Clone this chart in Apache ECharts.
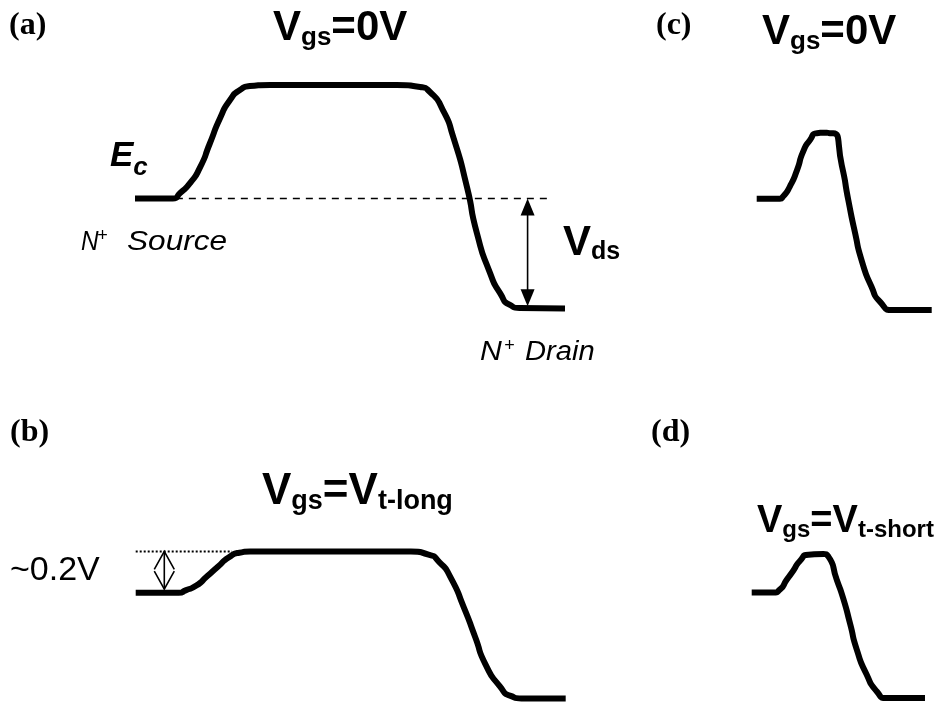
<!DOCTYPE html>
<html>
<head>
<meta charset="utf-8">
<script src="https://cdn.jsdelivr.net/npm/echarts@6/dist/echarts.min.js"></script>
<style>
  html, body { margin: 0; padding: 0; background: #fff; }
  #chart { width: 943px; height: 717px; }
</style>
</head>
<body>
<div id="chart"></div>
<script>
// Conduction-band edge Ec (eV, relative to the source level) along the channel.
// Position is in arbitrary channel units.

// (a) long channel, Vgs = 0 V
const posA = [0, 8.8, 10.5, 12.8, 15.1, 17.4, 19.8, 22.1, 24.4, 26.7, 31.4, 60.9, 66.3, 68.6, 71.6, 74.0, 77.2, 79.5, 82.6, 84.9, 87.2, 89.5, 100];
const ecA  = [0, 0, 0.025, 0.07, 0.14, 0.25, 0.366, 0.448, 0.493, 0.511, 0.516, 0.516, 0.507, 0.484, 0.402, 0.28, 0.052, -0.157, -0.34, -0.43, -0.484, -0.498, -0.5];

// (b) long channel, Vgs = Vt-long
const posB = [0, 10.0, 11.6, 14.1, 16.6, 19.1, 21.6, 24.1, 26.6, 64.0, 68.1, 70.6, 73.1, 76.4, 78.9, 81.4, 84.7, 87.2, 89.7, 100];
const ecB  = [0, 0, 0.012, 0.035, 0.08, 0.126, 0.171, 0.194, 0.2, 0.2, 0.185, 0.149, 0.08, -0.075, -0.211, -0.348, -0.452, -0.498, -0.51, -0.51];

// (c) short channel, Vgs = 0 V
const posC = [0, 5.4, 6.1, 7.7, 9.4, 10.8, 12.4, 14.0, 16.3, 17.0, 17.8, 19.8, 21.3, 22.9, 24.4, 26.7, 28.7, 31.8, 40.7];
const ecC  = [0, 0, 0.009, 0.055, 0.131, 0.214, 0.267, 0.298, 0.3, 0.298, 0.298, 0.15, -0.006, -0.158, -0.28, -0.4, -0.469, -0.506, -0.506];

// (d) short channel, Vgs = Vt-short
const posD = [0, 5.0, 6.6, 8.1, 9.7, 11.2, 13.2, 16.7, 17.8, 19.8, 21.3, 22.9, 24.4, 26.7, 29.1, 31.4, 40.3];
const ecD  = [0, 0, 0.015, 0.06, 0.106, 0.152, 0.182, 0.185, 0.174, 0.06, -0.03, -0.152, -0.273, -0.394, -0.477, -0.508, -0.508];

// Source reference level in (a), extended towards the drain
const sourceLevelPos = [9.5, 97];
const sourceLevel = 0;
// Barrier-top reference level in (b)
const barrierTopPos = [0, 22.4];
const barrierTop = 0.2;

// Double arrows: [position, from Ec, to Ec]
const vdsArrow = [[91.3, 0, -0.49]];
const barrierArrow = [[6.65, 0.2, 0.018]];

const zip = (xs, ys) => xs.map((x, i) => [x, ys[i]]);

const SANS = '"Liberation Sans", Arial, sans-serif';
const SERIF = '"Liberation Serif", "Times New Roman", serif';
const meas = document.createElement('canvas').getContext('2d');

function label(x, base, text, size, o) {
  o = o || {};
  const k = o.serif ? 0.3374 : 0.3465;
  return {
    type: 'text', x: x, y: base - k * size, scaleX: o.sx || 1, silent: true,
    style: {
      text: text, fontFamily: o.serif ? SERIF : SANS, fontSize: size,
      fontWeight: o.bold ? 'bold' : 'normal', fontStyle: o.italic ? 'italic' : 'normal',
      fill: '#000', align: 'left', verticalAlign: 'middle'
    }
  };
}
// Runs of text on one baseline (main text + subscripts)
function chain(x, base, parts) {
  const out = [];
  let cx = x;
  parts.forEach(function (p) {
    const t = p[0], size = p[1], dy = p[2], o = p[3] || {};
    out.push(label(cx, base + dy, t, size, o));
    meas.font = (o.italic ? 'italic ' : '') + (o.bold ? 'bold ' : '') + size + 'px ' + (o.serif ? SERIF : SANS);
    cx += meas.measureText(t).width * (o.sx || 1);
  });
  return out;
}
const B = { bold: true };
const BI = { bold: true, italic: true };
const PANEL = { serif: true, bold: true };

const texts = [].concat(
  [label(9, 37, '(a)', 32, PANEL),
   label(10, 444, '(b)', 32, PANEL),
   label(656, 37, '(c)', 32, PANEL),
   label(651, 444, '(d)', 32, PANEL)],
  chain(273, 43, [['V', 42, 0, B], ['gs', 26, 4, B], ['=0V', 42, 0, B]]),
  chain(762, 47, [['V', 42, 0, B], ['gs', 26, 4, B], ['=0V', 42, 0, B]]),
  chain(262, 507, [['V', 44, 0, B], ['gs', 27, 4, B], ['=V', 44, 0, B], ['t-long', 27, 4, B]]),
  chain(757, 535, [['V', 38, 0, B], ['gs', 24, 4, B], ['=V', 38, 0, B], ['t-short', 24, 4, B]]),
  chain(110, 168, [['E', 35, 0, BI], ['c', 26, 9, BI]]),
  chain(563, 258, [['V', 42, 0, B], ['ds', 25, 3, B]]),
  [label(81, 252, 'N', 27, { italic: true, sx: 0.9 }), label(97, 242, '+', 18, { italic: true }),
   label(127, 252, 'Source', 27, { italic: true, sx: 1.17 }),
   label(480, 362, 'N', 27, { italic: true, sx: 1.12 }), label(504, 352, '+', 18, { italic: true }),
   label(525, 362, 'Drain', 27, { italic: true, sx: 1.08 }),
   label(10, 582, '~0.2V', 34)]
);

// Double-headed vertical arrow drawn through the axes' scales
function arrowRenderer(open, headLen, headW) {
  return function (params, api) {
    const p0 = api.coord([api.value(0), api.value(1)]);
    const p1 = api.coord([api.value(0), api.value(2)]);
    const dx = p1[0] - p0[0], dy = p1[1] - p0[1];
    const len = Math.sqrt(dx * dx + dy * dy);
    const ux = dx / len, uy = dy / len, nx = -uy, ny = ux;
    const head = function (tip, s) {
      const bx = tip[0] - s * ux * headLen, by = tip[1] - s * uy * headLen;
      return [[bx + nx * headW / 2, by + ny * headW / 2], tip, [bx - nx * headW / 2, by - ny * headW / 2]];
    };
    const h0 = head(p0, -1), h1 = head(p1, 1);
    const inset = open ? 0 : headLen * 0.8;
    const children = [{
      type: 'line',
      shape: { x1: p0[0] + ux * inset, y1: p0[1] + uy * inset, x2: p1[0] - ux * inset, y2: p1[1] - uy * inset },
      style: { stroke: '#000', lineWidth: 1.6 }
    }];
    [h0, h1].forEach(function (h) {
      children.push(open
        ? { type: 'polyline', shape: { points: h }, style: { stroke: '#000', lineWidth: 1.6, fill: null } }
        : { type: 'polygon', shape: { points: h }, style: { fill: '#000' } });
    });
    return { type: 'group', children: children };
  };
}

const grids = [
  { left: 135, top: 66.5, width: 430, height: 264 },
  { left: 135.7, top: 468.7, width: 430, height: 264 },
  { left: 756.7, top: 66.7, width: 176.3, height: 264 },
  { left: 751.7, top: 468, width: 176.3, height: 264 }
];
const xMax = [100, 100, 41, 41];

const bandStyle = { color: '#000', width: 6, cap: 'butt', join: 'round' };
function band(i, data) {
  return {
    type: 'line', xAxisIndex: i, yAxisIndex: i, data: data, smooth: 0.7,
    symbol: 'none', clip: false, silent: true, lineStyle: bandStyle
  };
}

const option = {
  animation: false,
  backgroundColor: '#fff',
  grid: grids,
  xAxis: grids.map(function (g, i) {
    return { type: 'value', gridIndex: i, min: 0, max: xMax[i], show: false };
  }),
  yAxis: grids.map(function (g, i) {
    return { type: 'value', gridIndex: i, min: -0.6, max: 0.6, show: false };
  }),
  series: [
    band(0, zip(posA, ecA)),
    band(1, zip(posB, ecB)),
    band(2, zip(posC, ecC)),
    band(3, zip(posD, ecD)),
    {
      type: 'line', xAxisIndex: 0, yAxisIndex: 0, symbol: 'none', silent: true, clip: false,
      data: sourceLevelPos.map(function (x) { return [x, sourceLevel]; }),
      lineStyle: { color: '#000', width: 1.5, type: [7, 6] }
    },
    {
      type: 'line', xAxisIndex: 1, yAxisIndex: 1, symbol: 'none', silent: true, clip: false,
      data: barrierTopPos.map(function (x) { return [x, barrierTop]; }),
      lineStyle: { color: '#000', width: 2, type: [2, 2] }
    },
    {
      type: 'custom', coordinateSystem: 'cartesian2d', xAxisIndex: 0, yAxisIndex: 0,
      clip: false, silent: true, data: vdsArrow, encode: { x: 0, y: [1, 2] },
      renderItem: arrowRenderer(false, 17, 14)
    },
    {
      type: 'custom', coordinateSystem: 'cartesian2d', xAxisIndex: 1, yAxisIndex: 1,
      clip: false, silent: true, data: barrierArrow, encode: { x: 0, y: [1, 2] },
      renderItem: arrowRenderer(true, 18, 20)
    }
  ],
  graphic: { elements: texts }
};

const chart = echarts.init(document.getElementById('chart'), null, { renderer: 'canvas' });
chart.setOption(option);
</script>
</body>
</html>
